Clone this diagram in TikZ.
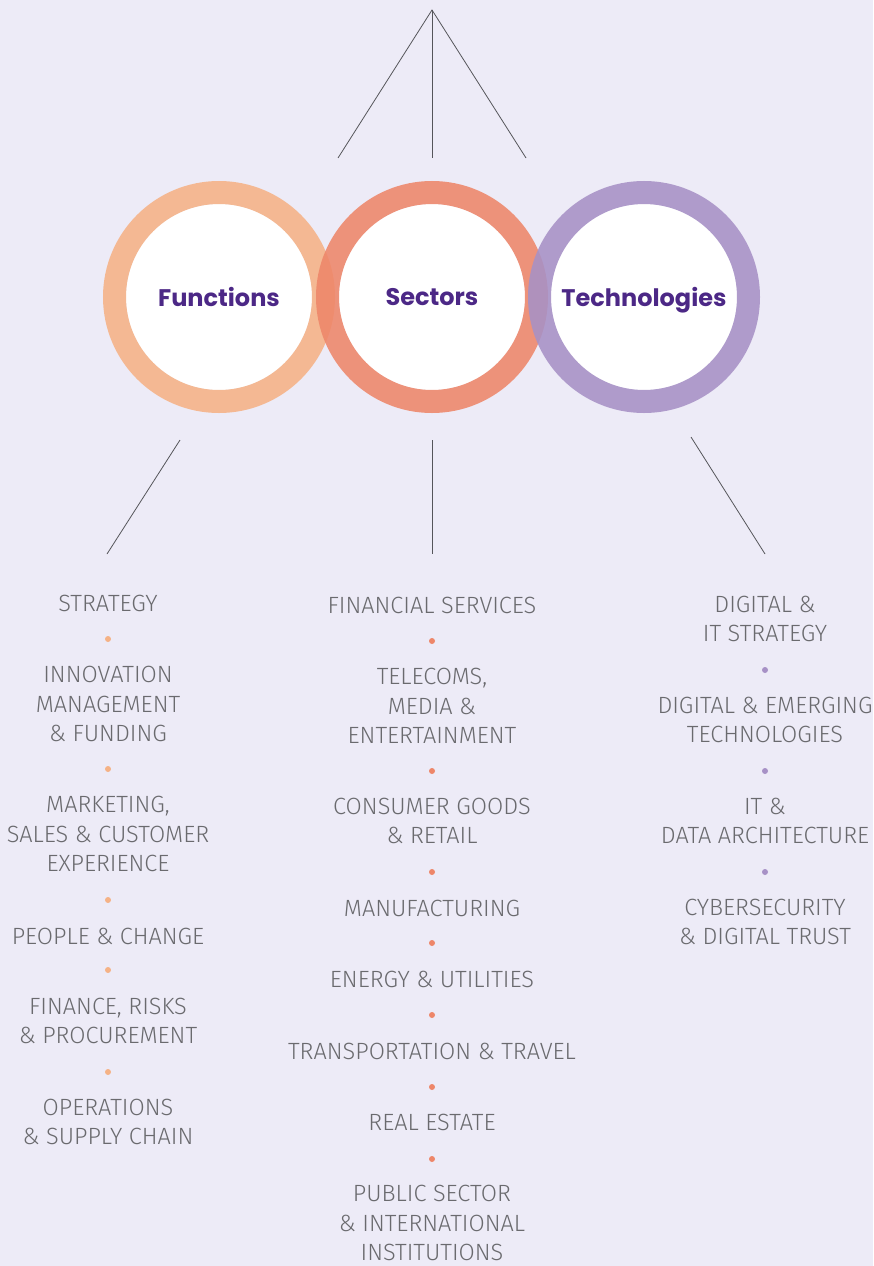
\documentclass[tikz,border=0pt]{standalone}
\usepackage{fontspec}
\setmainfont{Fira Sans Light}
\newfontfamily\headfont{Poppins}
\usetikzlibrary{positioning}

\definecolor{bgc}{RGB}{237,235,247}
\definecolor{funcc}{RGB}{245,178,134}
\definecolor{sectc}{RGB}{238,134,105}
\definecolor{techc}{RGB}{167,145,198}
\definecolor{headc}{RGB}{76,40,134}
\definecolor{itemc}{RGB}{106,106,110}
\definecolor{linec}{RGB}{85,85,90}

\begin{document}
\begin{tikzpicture}[x=1pt,y=-1pt,
	hub/.style = {shape=circle, fill=white, minimum size=186pt, inner sep=0pt,
		font=\headfont\bfseries\fontsize{24}{28}\selectfont, text=headc,
		text depth=0pt},
	ring/.style = {line width=23pt, draw opacity=.88},
	link/.style = {draw=linec, line width=.8pt},
	item/.style = {align=center, inner sep=0pt, text=itemc,
		font=\fontsize{23.5}{29.5}\selectfont},
	dot/.style = {shape=circle, inner sep=0pt, minimum size=6pt}
	]
  \fill[bgc] (0,0) rectangle (873,1266);
  \useasboundingbox (0,0) rectangle (873,1266);

  % three hubs
  \node [hub] (func) at (219,297) {Functions};
  \draw [ring, funcc] (func.center) circle [radius=104.5];
  \node [hub] (sect) at (432,297) {Sectors};
  \draw [ring, sectc] (sect.center) circle [radius=104.5];
  \node [hub] (tech) at (644,297) {Technologies};
  \draw [ring, techc] (tech.center) circle [radius=104.5];

  % lines on top
  \coordinate (apex) at (432,10);
  \coordinate (top-f) at (338,158);
  \coordinate (top-s) at (432,158);
  \coordinate (top-t) at (526,158);
  \draw [link] (top-f) -- (apex) -- (top-t);
  \draw [link] (apex) -- (top-s);

  % lines down to the lists
  \coordinate (f-a) at (180,440);  \coordinate (f-b) at (107,554);
  \coordinate (s-a) at (432,440);  \coordinate (s-b) at (432,554);
  \coordinate (t-a) at (691,437);  \coordinate (t-b) at (765,554);
  \draw [link] (f-a) -- (f-b);
  \draw [link] (s-a) -- (s-b);
  \draw [link] (t-a) -- (t-b);

  % functions
  \foreach \y/\t [count=\i] in {603/STRATEGY,
  		704/{INNOVATION\\MANAGEMENT\\\& FUNDING},
  		834/{MARKETING,\\SALES \& CUSTOMER\\EXPERIENCE},
  		936/{PEOPLE \& CHANGE},
  		1021/{FINANCE, RISKS\\\& PROCUREMENT},
  		1122/{OPERATIONS\\\& SUPPLY CHAIN}}
    \node [item] (f\i) at (108,\y) {\t};
  \foreach \y [count=\i] in {639,769,900,970,1072}
    \node [dot, fill=funcc] (fd\i) at (108,\y) {};

  % sectors
  \foreach \y/\t [count=\i] in {605/{FINANCIAL SERVICES},
  		706/{TELECOMS,\\MEDIA \&\\ENTERTAINMENT},
  		821/{CONSUMER GOODS\\\& RETAIL},
  		908/MANUFACTURING,
  		979/{ENERGY \& UTILITIES},
  		1051/{TRANSPORTATION \& TRAVEL},
  		1122/{REAL ESTATE},
  		1223/{PUBLIC SECTOR\\\& INTERNATIONAL\\INSTITUTIONS}}
    \node [item] (s\i) at (432,\y) {\t};
  \foreach \y [count=\i] in {641,771,872,943,1015,1087,1159}
    \node [dot, fill=sectc] (sd\i) at (432,\y) {};

  % technologies
  \foreach \y/\t [count=\i] in {619/{DIGITAL \&\\IT STRATEGY},
  		720/{DIGITAL \& EMERGING\\TECHNOLOGIES},
  		821/{IT \&\\DATA ARCHITECTURE},
  		922/{CYBERSECURITY\\\& DIGITAL TRUST}}
    \node [item] (t\i) at (765,\y) {\t};
  \foreach \y [count=\i] in {670,771,872}
    \node [dot, fill=techc] (td\i) at (765,\y) {};
\end{tikzpicture}
\end{document}
